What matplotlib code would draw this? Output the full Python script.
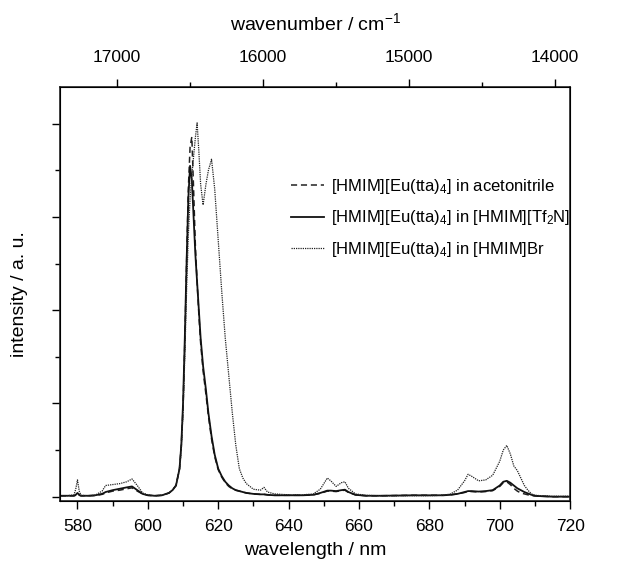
import numpy as np
import matplotlib
matplotlib.use("Agg")
import matplotlib.pyplot as plt
from matplotlib.ticker import MultipleLocator, NullFormatter

plt.rcParams["font.family"] = ["Liberation Sans", "DejaVu Sans"]
plt.rcParams["mathtext.fontset"] = "custom"
plt.rcParams["mathtext.rm"] = "Liberation Sans"
plt.rcParams["mathtext.it"] = "Liberation Sans"

# wavelength grid (nm) and emission traces (arbitrary units)
wavelength = [575, 577, 579, 579.5, 580, 580.5, 581, 583, 585, 587, 588, 590, 592, 594,
              595.5, 597, 598.5, 600, 602, 604, 606, 607, 608, 609, 609.5, 610, 610.5,
              611, 611.5, 612, 612.5, 613, 613.5, 614, 614.5, 615, 615.7, 616.5, 617.2,
              618.1, 619, 620, 621, 622, 623, 624, 625, 626, 627, 628, 630, 632, 633,
              634, 636, 640, 644, 647, 649, 651, 652, 653.5, 655, 656, 657, 659, 662,
              666, 670, 675, 680, 684, 686, 688, 690, 691, 692, 694, 696, 698, 700, 701,
              702, 703, 704, 705, 706, 707, 708, 709, 710, 712, 715, 720]

acetonitrile = [0.01, 0.01, 0.01, 0.015, 0.03, 0.015, 0.01, 0.01, 0.012, 0.025, 0.04, 0.06,
                0.07, 0.085, 0.095, 0.06, 0.03, 0.015, 0.01, 0.015, 0.04, 0.07, 0.12, 0.3,
                0.55, 0.95, 1.65, 2.5, 3.3, 3.75, 3.86, 3.3, 2.7, 2.3, 1.95, 1.65, 1.35,
                1.1, 0.87, 0.62, 0.43, 0.29, 0.21, 0.15, 0.11, 0.085, 0.07, 0.06, 0.05,
                0.04, 0.03, 0.025, 0.025, 0.02, 0.015, 0.015, 0.015, 0.02, 0.035, 0.06,
                0.06, 0.055, 0.065, 0.07, 0.045, 0.02, 0.01, 0.01, 0.012, 0.015, 0.015,
                0.015, 0.02, 0.03, 0.045, 0.055, 0.055, 0.05, 0.055, 0.065, 0.11, 0.15,
                0.16, 0.13, 0.09, 0.06, 0.04, 0.03, 0.02, 0.012, 0.008, 0.005, 0.0, 0.0]

tf2n = [0.01, 0.01, 0.01, 0.02, 0.04, 0.02, 0.01, 0.01, 0.015, 0.03, 0.05, 0.07, 0.085,
        0.1, 0.11, 0.07, 0.03, 0.015, 0.01, 0.015, 0.04, 0.07, 0.12, 0.3, 0.55, 1.0, 1.7,
        2.5, 3.2, 3.55, 3.4, 3.0, 2.6, 2.3, 2.0, 1.7, 1.4, 1.15, 0.9, 0.65, 0.45, 0.3,
        0.22, 0.16, 0.12, 0.09, 0.07, 0.06, 0.05, 0.04, 0.03, 0.025, 0.025, 0.02, 0.015,
        0.015, 0.015, 0.02, 0.04, 0.065, 0.065, 0.06, 0.07, 0.075, 0.05, 0.02, 0.01,
        0.01, 0.012, 0.015, 0.015, 0.015, 0.02, 0.03, 0.05, 0.06, 0.06, 0.055, 0.06,
        0.07, 0.12, 0.16, 0.17, 0.15, 0.12, 0.09, 0.07, 0.05, 0.035, 0.02, 0.01, 0.005,
        0.0, 0.0]

hmim_br = [0.01, 0.01, 0.02, 0.08, 0.18, 0.06, 0.015, 0.01, 0.015, 0.06, 0.12, 0.13, 0.14,
           0.16, 0.19, 0.12, 0.04, 0.02, 0.01, 0.015, 0.04, 0.07, 0.12, 0.3, 0.5, 0.9, 1.5,
           2.2, 2.8, 3.2, 3.45, 3.65, 3.85, 4.01, 3.7, 3.35, 3.13, 3.35, 3.5, 3.62, 3.3,
           2.75, 2.2, 1.7, 1.3, 0.9, 0.55, 0.3, 0.2, 0.14, 0.08, 0.07, 0.1, 0.05, 0.03,
           0.02, 0.02, 0.03, 0.08, 0.2, 0.17, 0.11, 0.15, 0.16, 0.09, 0.03, 0.015, 0.01,
           0.01, 0.01, 0.01, 0.015, 0.03, 0.07, 0.17, 0.24, 0.22, 0.17, 0.18, 0.23, 0.38,
           0.5, 0.55, 0.46, 0.33, 0.28, 0.2, 0.12, 0.07, 0.03, 0.015, 0.01, 0.005, 0.005]

labels = [r"[HMIM][Eu(tta)$_4$] in acetonitrile",
          r"[HMIM][Eu(tta)$_4$] in [HMIM][Tf$_2$N]",
          r"[HMIM][Eu(tta)$_4$] in [HMIM]Br"]

fig = plt.figure(figsize=(6.37, 5.68), dpi=100)
ax = fig.add_axes([0.094, 0.118, 0.801, 0.728])

ax.plot(wavelength, acetonitrile, color="#222222", linestyle=(0, (4, 2.5)), lw=1.1, label=labels[0])
ax.plot(wavelength, tf2n, color="#111111", linestyle="-", lw=1.3, label=labels[1])
ax.plot(wavelength, hmim_br, color="#222222", linestyle=(0, (1, 0.8)), lw=0.9, label=labels[2])

ax.set_xlim(575, 720)
ax.set_ylim(-0.046, 4.39)
ax.xaxis.set_major_locator(MultipleLocator(20))
ax.xaxis.set_minor_locator(MultipleLocator(10))
ax.yaxis.set_major_locator(MultipleLocator(1))
ax.yaxis.set_minor_locator(MultipleLocator(0.5))
ax.yaxis.set_major_formatter(NullFormatter())
ax.tick_params(which="major", direction="out", length=6, width=1.0, labelsize=12.5, pad=7)
ax.tick_params(which="minor", direction="out", length=3.5, width=1.0)
ax.tick_params(axis="x", which="both", top=False)
ax.set_xlabel("wavelength / nm", fontsize=14, labelpad=6)
ax.set_ylabel("intensity / a. u.", fontsize=14, labelpad=10)
for sp in ax.spines.values():
    sp.set_linewidth(1.2)
    sp.set_color("#222222")

top = ax.twiny()
top.set_xlim(17390, 13895)
top.xaxis.set_major_locator(MultipleLocator(1000))
top.xaxis.set_minor_locator(MultipleLocator(500))
top.tick_params(which="major", direction="out", length=6, width=1.0, labelsize=12.5, pad=10.5)
top.tick_params(which="minor", direction="out", length=3.5, width=1.0)
top.set_xlabel(r"wavenumber / cm$^{-1}$", fontsize=14, labelpad=14)

ax.legend(loc="upper left", bbox_to_anchor=(0.44, 0.80), frameon=False, fontsize=12,
          handlelength=2.0, handletextpad=0.4, labelspacing=0.75, borderaxespad=0)

fig.savefig("out.png", dpi=100)
